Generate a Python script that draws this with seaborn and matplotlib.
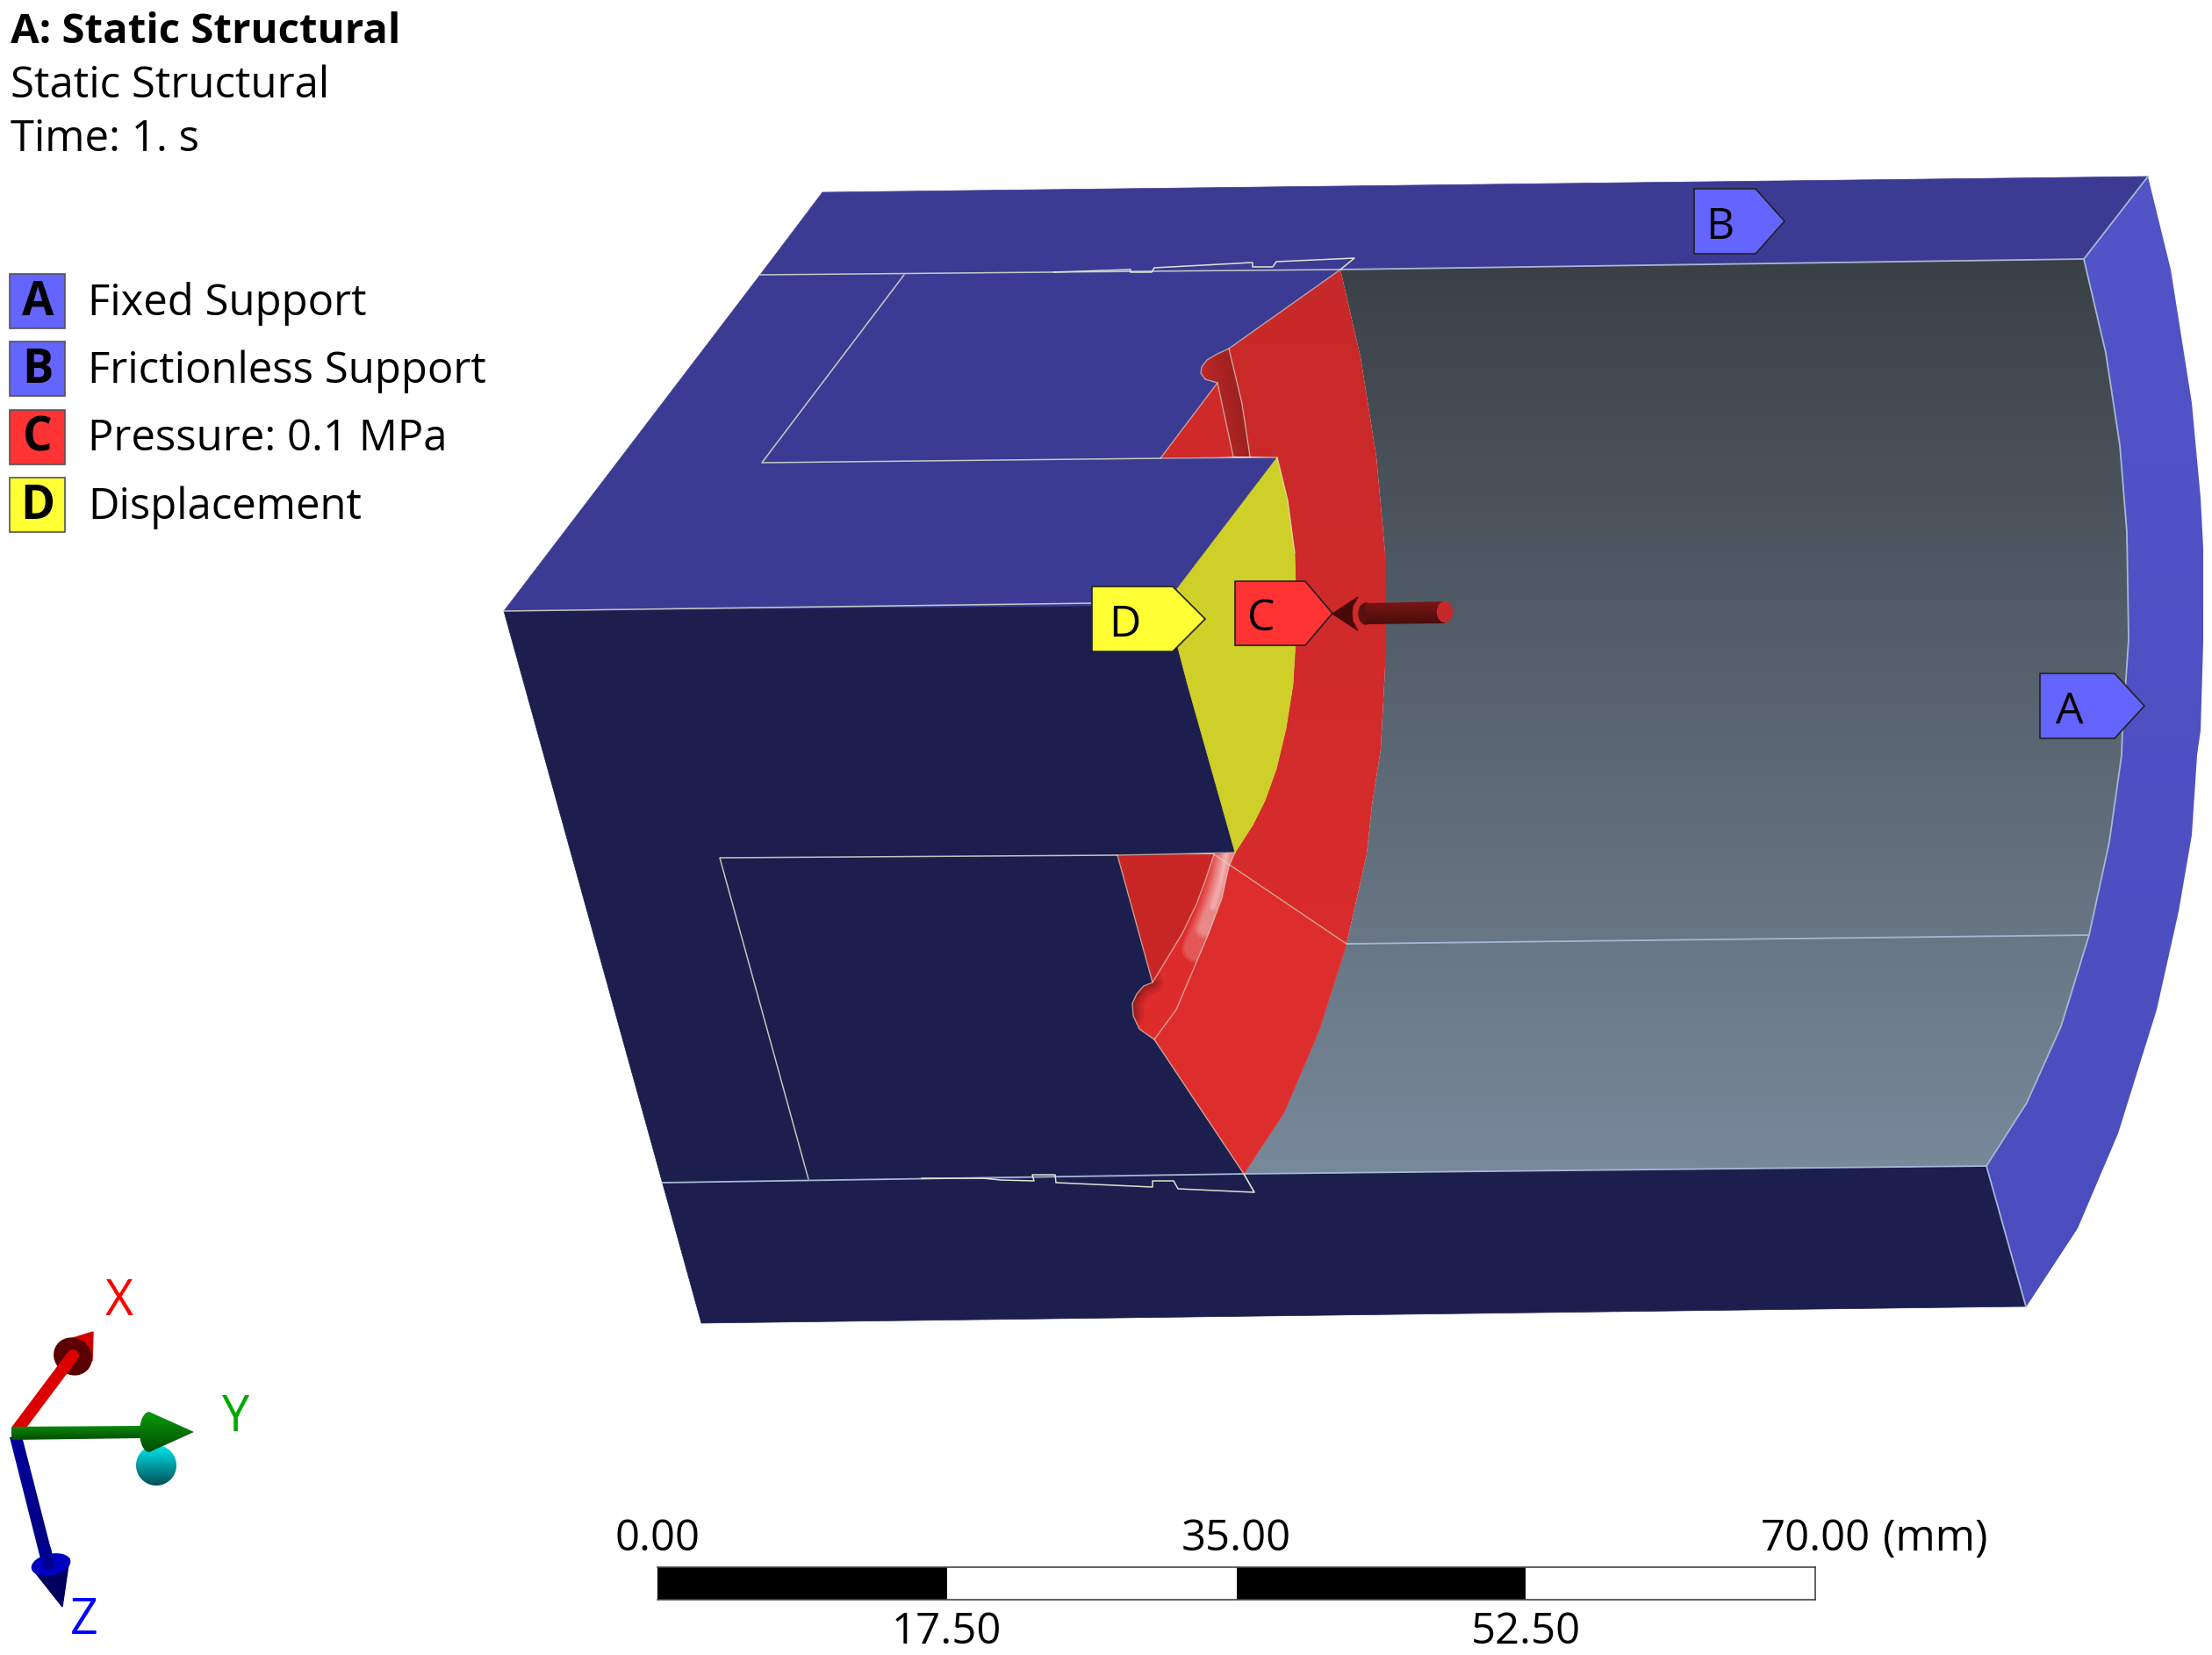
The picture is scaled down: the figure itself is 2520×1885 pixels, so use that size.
import numpy as np
import matplotlib
matplotlib.use("Agg")
import matplotlib.pyplot as plt
import seaborn as sns
from matplotlib.patches import Polygon, Ellipse, Rectangle

# texte
header_lines = ["A: Static Structural", "Static Structural", "Time: 1. s"]
legend_keys = ["A", "B", "C", "D"]
legend_names = ["Fixed Support", "Frictionless Support", "Pressure: 0.1 MPa", "Displacement"]
legend_colors = ["#6464ff", "#6464ff", "#ff3333", "#ffff33"]

# scale bar
scale_ticks = [0.0, 17.5, 35.0, 52.5, 70.0]
scale_labels = ["0.00", "17.50", "35.00", "52.50", "70.00"]
scale_unit = "(mm)"

# model outline (pixels)
rim_outer = [(2447, 201), (2473, 307), (2497, 459), (2507, 567), (2510, 624), (2510, 732), (2507, 832),
             (2503, 860), (2497, 951), (2482, 1038), (2457, 1150), (2413, 1291), (2367, 1399), (2308, 1489)]
rim_inner = [(2374, 295), (2399, 402), (2415, 507), (2423, 606), (2425, 728), (2418, 832), (2417, 860),
             (2403, 959), (2380, 1065), (2348, 1169), (2309, 1256), (2263, 1328)]
bore_left = [(1527, 307), (1550, 407), (1568, 520), (1578, 630), (1578, 730), (1578, 760), (1573, 853),
             (1563, 917), (1557, 973), (1534, 1075), (1503, 1173), (1463, 1267), (1417, 1337)]
notch_top = [(1400, 397), (1387, 403), (1375, 410), (1369, 418), (1368, 425), (1373, 432), (1387, 436)]
notch_low = [(1313, 1119), (1303, 1123), (1295, 1132), (1290, 1143), (1291, 1157), (1298, 1172), (1315, 1184)]
groove_top_right = [(1400, 397), (1415, 460), (1424, 520)]
groove_low_left = [(1383, 973), (1373, 1003), (1363, 1030), (1347, 1063), (1313, 1119)]
groove_low_right = [(1407, 971), (1400, 987), (1392, 1023), (1377, 1063), (1360, 1103), (1340, 1150), (1315, 1184)]
yellow_arc = [(1455, 521), (1467, 570), (1475, 630), (1477, 713), (1473, 780), (1465, 830), (1454, 876),
              (1441, 912), (1427, 940), (1407, 971)]
yellow_left = [(1353, 780), (1342, 738), (1340, 672)]

top_face = [(937, 219), (2447, 201), (2374, 295), (1527, 307)] + notch_top + [(1322, 522), (1455, 521),
            (1340, 692), (574, 696), (866, 313)]
front_face = [(574, 696), (1340, 690), (1342, 738), (1353, 780), (1407, 971), (1273, 974)] + notch_low + [
    (1417, 1337), (2263, 1328), (2308, 1488), (799, 1507)]
red_upper = bore_left[:10] + [(1383, 973)] + yellow_arc[::-1] + [(1424, 520)] + groove_top_right[::-1][1:]
red_lower = [(1383, 973)] + bore_left[9:] + groove_low_right[::-1]
red_wedge_top = [(1387, 436), (1322, 522), (1405, 520)]
red_wedge_low = [(1273, 974)] + groove_low_left
groove_top = notch_top + [(1405, 520)] + groove_top_right[::-1]
groove_low = groove_low_left + notch_low[1:] + groove_low_right[::-1]
yellow_face = yellow_arc + yellow_left

# thin edge lines
dark_edges = [
    [(866, 313), (1527, 307)],
    [(1030, 313), (868, 527), (1322, 522)],
    [(574, 696), (1244, 687)],
    [(921, 1343), (820, 977), (1273, 974)],
]
red_edges = [
    [(1527, 307), (1400, 397)],
    [(1322, 522), (1387, 436)] + notch_top[::-1],
    [(1322, 522), (1455, 521)],
    [(1273, 974), (1407, 971)],
    [(1273, 974)] + notch_low + [(1417, 1337), (1429, 1358)],
    [(1383, 973), (1534, 1075)],
    groove_low_left,
    groove_low_right,
    groove_top_right,
    [(1387, 436), (1405, 520)],
    yellow_arc[:3],
]
blue_edges = [
    [(754, 1347), (1417, 1337), (2263, 1328)],
    [(1534, 1075), (2380, 1065)],
    [(1527, 307), (2374, 295)],
    [(2447, 201), (2374, 295)],
    rim_inner,
    [(2263, 1328), (2308, 1488)],
]
jag_top = [(1200, 310), (1288, 307), (1288, 310), (1312, 310), (1315, 305), (1427, 299), (1427, 304),
           (1450, 304), (1454, 298), (1543, 294), (1527, 307)]
jag_bottom = [(1050, 1342), (1120, 1342), (1140, 1344), (1178, 1345), (1176, 1338), (1202, 1338),
              (1203, 1347), (1313, 1352), (1313, 1345), (1337, 1345), (1342, 1354), (1429, 1358), (1417, 1337)]

# callouts
callout_keys = ["A", "B", "D", "C"]
callout_left = [2324, 1930, 1244, 1407]
callout_right = [2409, 2000, 1336, 1487]
callout_tip = [2443, 2033, 1373, 1518]
callout_top = [767, 215, 668, 662]
callout_bot = [841, 289, 742, 735]
callout_text_x = [2358, 1959, 1281, 1437]
callout_colors = ["#6464ff", "#6464ff", "#ffff33", "#ff3333"]

FONT = "Open Sans"

sns.set_theme(style="white")
plt.rcParams["font.family"] = [FONT, "DejaVu Sans"]

fig = plt.figure(figsize=(25.2, 18.85), dpi=100, facecolor="white")
ax = fig.add_axes([0, 0, 1, 1])


def fill(points, color, z=2):
    patch = Polygon(points, closed=True, facecolor=color, edgecolor=color, lw=0.5, zorder=z)
    ax.add_patch(patch)
    return patch


def edge(points, color, lw=1.3, z=6, alpha=1.0, clip=None):
    xs = [p[0] for p in points]
    ys = [p[1] for p in points]
    sns.lineplot(x=xs, y=ys, sort=False, estimator=None, color=color, lw=lw, alpha=alpha,
                 zorder=z, ax=ax, legend=False)
    line = ax.lines[-1]
    line.set_solid_capstyle("round")
    if clip is not None:
        line.set_clip_path(Polygon(clip, closed=True, transform=ax.transData))


def shaded(points, c0, c1, angle_x=0.0, angle_y=1.0, z=3):
    # gradient fill clipped to the polygon
    pts = np.array(points, dtype=float)
    x0, y0 = pts.min(axis=0)
    x1, y1 = pts.max(axis=0)
    gx, gy = np.meshgrid(np.linspace(x0, x1, 200), np.linspace(y0, y1, 200))
    t = gx * angle_x + gy * angle_y
    t = (t - t.min()) / (t.max() - t.min())
    a = np.array(matplotlib.colors.to_rgb(c0))
    b = np.array(matplotlib.colors.to_rgb(c1))
    img = a[None, None, :] * (1 - t[..., None]) + b[None, None, :] * t[..., None]
    im = ax.imshow(img, extent=(x0, x1, y1, y0), aspect="auto", zorder=z, interpolation="bilinear")
    im.set_clip_path(Polygon(points, closed=True, transform=ax.transData))


# faces
fill(top_face, "#3c3b93", 2)
fill(front_face, "#1c1e4d", 2)
shaded(rim_outer + rim_inner[::-1], "#5354c8", "#4b4cbd", 0.0, 1.0, 2)
bore = bore_left + rim_inner[::-1]
shaded(bore, "#3a4046", "#78899b", 0.0, 1.0, 2)

shaded(red_upper, "#c62929", "#d92c2c", 0.0, 1.0, 3)
fill(red_lower, "#dd2e2d", 3)
fill(red_wedge_top, "#cf2929", 3)
fill(red_wedge_low, "#c72625", 3)
shaded(groove_top, "#cf2a2a", "#8a1d1d", 1.0, -0.2, 4)
fill(groove_low, "#de2c2c", 4)
fill(yellow_face, "#cfcf29", 3)

# highlight and shade in the lower groove
streak = [(1397, 973), (1391, 1003), (1382, 1033), (1372, 1058), (1363, 1080)]
for w, n in [(24, 5), (20, 5), (16, 4), (13, 4), (10, 4), (7, 3), (5, 3), (3, 3), (2, 2)]:
    edge(streak[:n], "white", lw=w, z=5, alpha=0.11, clip=groove_low)
for w in [18, 14, 10, 7, 4]:
    edge(notch_low[:5], "#3a0808", lw=w, z=5, alpha=0.09, clip=groove_low)

for seg in dark_edges:
    edge(seg, "#d9e6cf", 1.1, alpha=0.85)
for seg in red_edges:
    edge(seg, "#d9e6cf", 1.0, alpha=0.6)
for seg in blue_edges:
    edge(seg, "#a4b8d4", 1.3)
edge(jag_top, "#d9e6cf", 1.1)
edge(jag_bottom, "#d9e6cf", 1.1)

# pressure arrow
ax.add_patch(Ellipse((1556, 699), 16, 24, color="#5a1010", zorder=7))
shaded([(1556, 687), (1646, 685), (1646, 710), (1556, 711)], "#7a1515", "#4a0d0d", 0.0, 1.0, 7)
ax.add_patch(Ellipse((1646, 697), 17, 23, color="#c9282b", zorder=8))
ax.add_patch(Polygon([(1518, 699), (1547, 680), (1541, 690), (1540, 699), (1541, 708), (1547, 718)],
                     closed=True, color="#4a0808", zorder=8))

# callouts
for key, l, r, t, top, bot, tx, col in zip(callout_keys, callout_left, callout_right, callout_tip,
                                            callout_top, callout_bot, callout_text_x, callout_colors):
    mid = (top + bot) / 2
    ax.add_patch(Polygon([(l, top), (r, top), (t, mid), (r, bot), (l, bot)], closed=True,
                         facecolor=col, edgecolor="#222222", lw=1.2, zorder=9))
    ax.text(tx, mid + 7, key, fontsize=36, color="black", ha="center", va="center", zorder=10)

# header + legend
for i, line in enumerate(header_lines):
    ax.text(12, 49 + i * 61.5, line, fontsize=34.1 if i == 0 else 35.3, color="black", va="baseline",
            ha="left", fontweight="bold" if i == 0 else "normal", zorder=10)
for i, (key, name, col) in enumerate(zip(legend_keys, legend_names, legend_colors)):
    y = 312 + i * 77.4
    ax.add_patch(Rectangle((11, y), 63, 62, facecolor=col, edgecolor="#555555", lw=1.2, zorder=9))
    ax.text(43, y + 33, key, fontsize=38, fontweight="bold", color="black", ha="center", va="center", zorder=10)
    ax.text(100, y + 46.5, name, fontsize=35.3, color="black", ha="left", va="baseline", zorder=10)

# triad
ax.add_patch(Polygon([(73, 1527), (106, 1517), (105, 1550)], closed=True, color="#d00000", zorder=4))
ax.add_patch(Ellipse((83, 1545), 44, 40, angle=40, color="#5a0000", zorder=5))
edge([(20, 1628), (83, 1544)], "#dd0000", 10, z=6)
shaded([(13, 1625), (163, 1624), (163, 1638), (13, 1640)], "#0d8a0d", "#004d00", 0.0, 1.0, 7)
ang = np.linspace(np.pi / 2, 3 * np.pi / 2, 24)
cone_y = [(170 + 11 * np.cos(a), 1631 + 23 * np.sin(a)) for a in ang] + [(221, 1631)]
shaded(cone_y, "#0a9a0a", "#004d00", 0.0, 1.0, 8)
ang = np.linspace(0, 2 * np.pi, 60)
sphere = [(178 + 23 * np.cos(a), 1669 + 23 * np.sin(a)) for a in ang]
shaded(sphere, "#00e8ee", "#004f55", 0.0, 1.0, 6)
shaded([(11, 1637), (25, 1636), (62, 1780), (48, 1783)], "#0000a0", "#00007a", 1.0, 0.0, 4)
ax.add_patch(Polygon([(37, 1787), (79, 1775), (71, 1830)], closed=True, color="#00005e", zorder=4))
ax.add_patch(Ellipse((58, 1782), 44, 23, angle=-12, color="#0000c0", zorder=5))
edge([(52, 1765), (56, 1782)], "#000090", 9, z=6)
ax.text(136, 1483, "X", color="#ff0000", fontsize=40, ha="center", va="center", zorder=10)
ax.text(269, 1615, "Y", color="#00a800", fontsize=40, ha="center", va="center", zorder=10)
ax.text(96, 1846, "Z", color="#0000ff", fontsize=40, ha="center", va="center", zorder=10)

ax.set_xlim(0, 2520)
ax.set_ylim(1885, 0)
ax.axis("off")

# scale bar in its own axes, mm on x
bar_ax = fig.add_axes([749 / 2520, 1 - 1822 / 1885, (2068 - 749) / 2520, 37 / 1885])
for i in range(len(scale_ticks) - 1):
    bar_ax.barh(0.5, scale_ticks[i + 1] - scale_ticks[i], left=scale_ticks[i], height=1,
                color="black" if i % 2 == 0 else "white", edgecolor="none")
bar_ax.set_xlim(scale_ticks[0], scale_ticks[-1])
bar_ax.set_ylim(0, 1)
bar_ax.set_xticks([])
bar_ax.set_yticks([])
bar_ax.spines["left"].set_visible(False)
for side in ["top", "bottom", "right"]:
    bar_ax.spines[side].set_visible(True)
    bar_ax.spines[side].set_color("#444444")
    bar_ax.spines[side].set_linewidth(1.2)
for i, (val, lab) in enumerate(zip(scale_ticks, scale_labels)):
    bar_ax.text(val, 1.87 if i % 2 == 0 else -1.02, lab, fontsize=35.3, color="black", ha="center", va="center",
                clip_on=False)
bar_ax.text(scale_ticks[-1] + 4.1, 1.87, scale_unit, fontsize=35.3, color="black", ha="left", va="center",
            clip_on=False)

fig.savefig("out.png", dpi=100)
